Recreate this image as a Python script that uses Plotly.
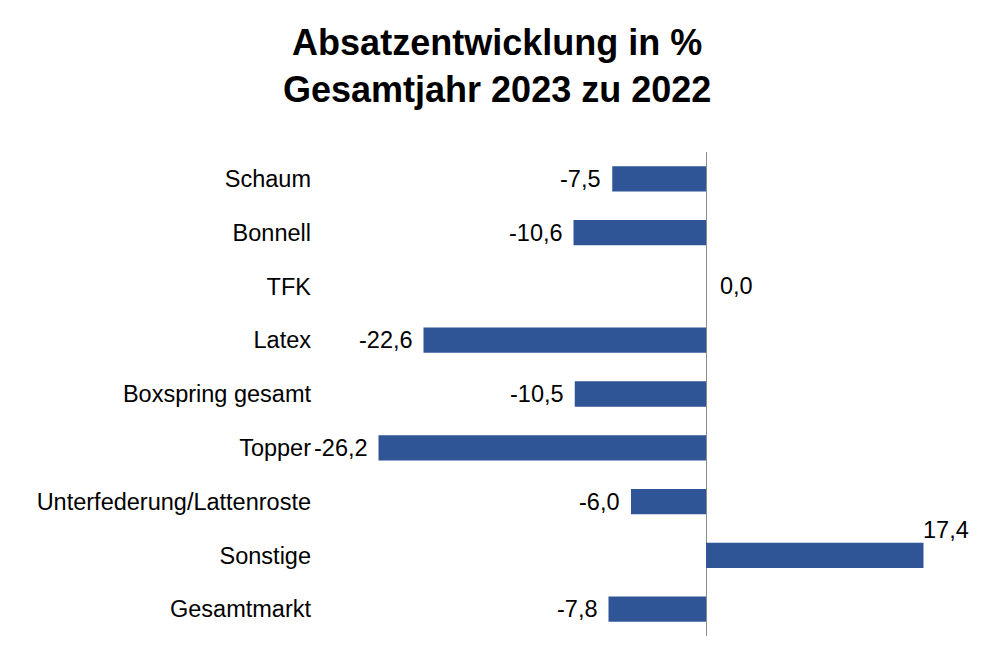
import plotly.graph_objects as go

categories = ["Schaum", "Bonnell", "TFK", "Latex", "Boxspring gesamt", "Topper",
              "Unterfederung/Lattenroste", "Sonstige", "Gesamtmarkt"]
values = [-7.5, -10.6, 0.0, -22.6, -10.5, -26.2, -6.0, 17.4, -7.8]
title_lines = ["Absatzentwicklung in %", "Gesamtjahr 2023 zu 2022"]

bar_color = "#2F5597"
font_family = "Liberation Sans, Arial, sans-serif"
lbl_size = 23.5

fig = go.Figure()
fig.add_trace(go.Bar(
    x=values, y=categories, orientation="h",
    marker=dict(color=bar_color, line=dict(width=0)),
    hoverinfo="skip",
))

def fmt(v):
    return f"{v:.1f}".replace(".", ",")

annotations = []
for c, v in zip(categories, values):
    if v < 0:
        annotations.append(dict(x=v, y=c, text=fmt(v), showarrow=False,
                                xanchor="right", xshift=-9, yanchor="middle",
                                font=dict(size=lbl_size, color="black", family=font_family)))
    elif v == 0:
        annotations.append(dict(x=v, y=c, text=fmt(v), showarrow=False,
                                xanchor="left", xshift=12, yanchor="middle",
                                font=dict(size=lbl_size, color="black", family=font_family)))
    else:
        annotations.append(dict(x=v, y=c, text=fmt(v), showarrow=False,
                                xanchor="left", xshift=-3, yshift=25, yanchor="middle",
                                font=dict(size=lbl_size, color="black", family=font_family)))

# title as annotation (paper coords relative to plot area)
annotations.append(dict(
    text="<b>" + "<br>".join(title_lines) + "</b>",
    xref="paper", yref="paper", x=(497 - 318) / 642, y=1 + (152 - 20) / 484,
    xanchor="center", yanchor="top", showarrow=False, align="center",
    font=dict(size=36, color="black", family=font_family),
))

fig.update_layout(
    width=1000, height=668,
    margin=dict(l=318, r=40, t=152, b=32),
    paper_bgcolor="white", plot_bgcolor="white",
    showlegend=False,
    bargap=0.53,
    annotations=annotations,
    xaxis=dict(range=[-31.04, 20.32], showgrid=False, showticklabels=False,
               zeroline=True, zerolinecolor="#8c8c8c", zerolinewidth=1,
               showline=False, ticks="", fixedrange=True),
    yaxis=dict(autorange=False, range=[8.5, -0.5], showgrid=False, zeroline=False,
               showline=False, ticks="", ticklabelstandoff=6,
               tickfont=dict(size=lbl_size, color="black", family=font_family),
               fixedrange=True),
)

fig.write_html("out.html")
